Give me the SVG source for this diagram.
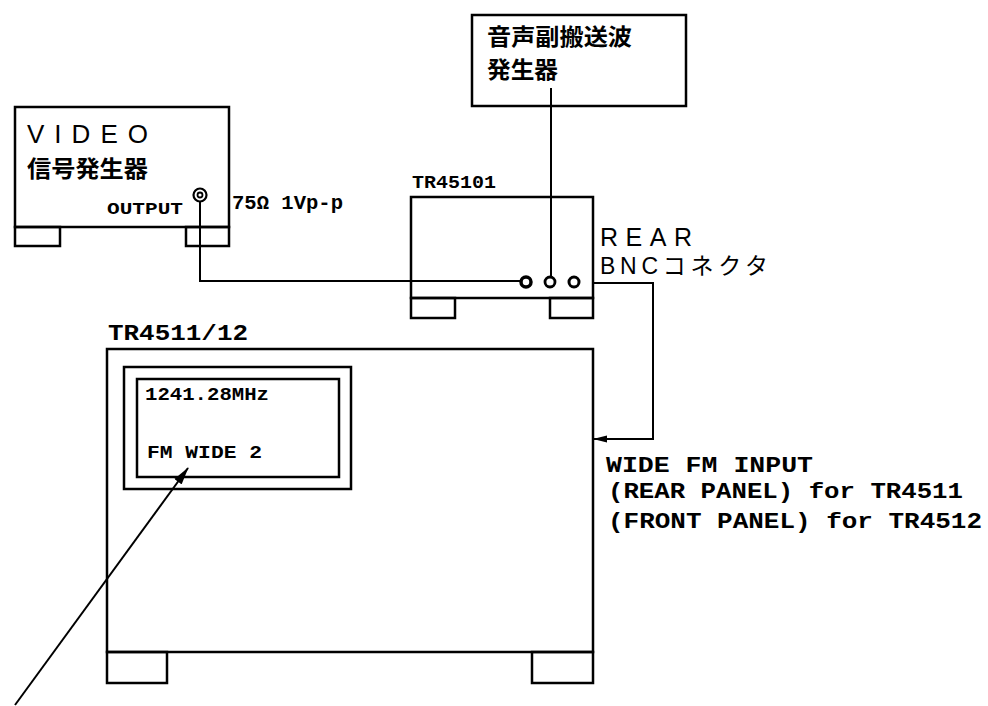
<svg xmlns="http://www.w3.org/2000/svg" width="988" height="706" viewBox="0 0 988 706">
<defs>
<style>
.box{fill:none;stroke:#000;stroke-width:2.5}
.ln{fill:none;stroke:#000;stroke-width:2}
.mono{font-family:"Liberation Mono","Courier New",monospace;font-weight:bold;fill:#000}
.sans{font-family:"Liberation Sans",Arial,"Noto Sans CJK JP",sans-serif;fill:#000}
.jp{font-family:"Noto Sans CJK JP",sans-serif;font-weight:bold;fill:#000}
</style>
<marker id="arr" markerWidth="14" markerHeight="8" refX="13" refY="4" orient="auto" markerUnits="userSpaceOnUse">
<path d="M0,0.5 L14,4 L0,7.5 Z" fill="#000"/>
</marker>
<marker id="arr2" markerWidth="18" markerHeight="10" refX="17" refY="5" orient="auto" markerUnits="userSpaceOnUse">
<path d="M0,0.5 L18,5 L0,9.5 Z" fill="#000"/>
</marker>
</defs>
<rect width="988" height="706" fill="#fff"/>

<g id="video-gen">
<rect class="box" x="15" y="107" width="214" height="120"/>
<rect class="box" x="15" y="227" width="45" height="19"/>
<rect class="box" x="186" y="227" width="43" height="19"/>
<text class="sans" x="27" y="143" font-size="26" textLength="121" lengthAdjust="spacing">VIDEO</text>
<text class="jp" x="27" y="177" font-size="23" textLength="121" lengthAdjust="spacingAndGlyphs">信号発生器</text>
<text class="mono" x="107" y="214" font-size="17" textLength="76" lengthAdjust="spacingAndGlyphs">OUTPUT</text>
<circle cx="200" cy="195" r="6.5" fill="none" stroke="#000" stroke-width="2.2"/>
<circle cx="200" cy="195" r="2.5" fill="none" stroke="#000" stroke-width="1.8"/>
<text class="mono" x="232" y="209" font-size="20" font-weight="normal" textLength="111" lengthAdjust="spacingAndGlyphs">75Ω 1Vp-p</text>
</g>

<g id="subcarrier-gen">
<rect class="box" x="472" y="15" width="214" height="91"/>
<text class="jp" x="487" y="45" font-size="23" textLength="145" lengthAdjust="spacingAndGlyphs">音声副搬送波</text>
<text class="jp" x="487" y="78" font-size="23" textLength="71" lengthAdjust="spacingAndGlyphs">発生器</text>
</g>

<g id="tr45101">
<text class="mono" x="412" y="188" font-size="18" textLength="84" lengthAdjust="spacingAndGlyphs">TR45101</text>
<rect class="box" x="411" y="197" width="182" height="101"/>
<rect class="box" x="411" y="298" width="44" height="20"/>
<rect class="box" x="550" y="298" width="43" height="20"/>
<circle cx="526" cy="282" r="5" fill="none" stroke="#000" stroke-width="3.5"/>
<circle cx="550" cy="282" r="5" fill="none" stroke="#000" stroke-width="2.8"/>
<circle cx="574" cy="282" r="5" fill="none" stroke="#000" stroke-width="3"/>
<text class="sans" x="600" y="246" font-size="25" textLength="92" lengthAdjust="spacing">REAR</text>
<text class="sans" x="600" y="274" font-size="23" textLength="168" lengthAdjust="spacing">BNCコネクタ</text>
</g>

<g id="tr4511">
<text class="mono" x="108" y="340" font-size="22" textLength="140" lengthAdjust="spacingAndGlyphs">TR4511/12</text>
<rect class="box" x="107" y="349" width="486" height="303"/>
<rect class="box" x="107" y="652" width="60" height="31"/>
<rect class="box" x="532" y="652" width="61" height="31"/>
<rect class="box" x="124" y="367" width="227" height="122"/>
<rect class="box" x="137" y="379" width="202" height="98"/>
<text class="mono" x="145" y="400" font-size="19" textLength="124" lengthAdjust="spacingAndGlyphs">1241.28MHz</text>
<text class="mono" x="147" y="458" font-size="19" textLength="115" lengthAdjust="spacingAndGlyphs">FM WIDE 2</text>
<text class="mono" x="606" y="472" font-size="22" textLength="207" lengthAdjust="spacingAndGlyphs">WIDE FM INPUT</text>
<text class="mono" x="608" y="498" font-size="22" textLength="355" lengthAdjust="spacingAndGlyphs">(REAR PANEL) for TR4511</text>
<text class="mono" x="608" y="528" font-size="22" textLength="374" lengthAdjust="spacingAndGlyphs">(FRONT PANEL) for TR4512</text>
</g>

<g id="connectors">
<path class="ln" d="M200,202 V281 H521"/>
<path class="ln" d="M551,88 V277"/>
<path class="ln" d="M593,283 H653 V439 H594" marker-end="url(#arr)"/>
<path class="ln" d="M15,705 L188,468" marker-end="url(#arr2)"/>
</g>
</svg>
